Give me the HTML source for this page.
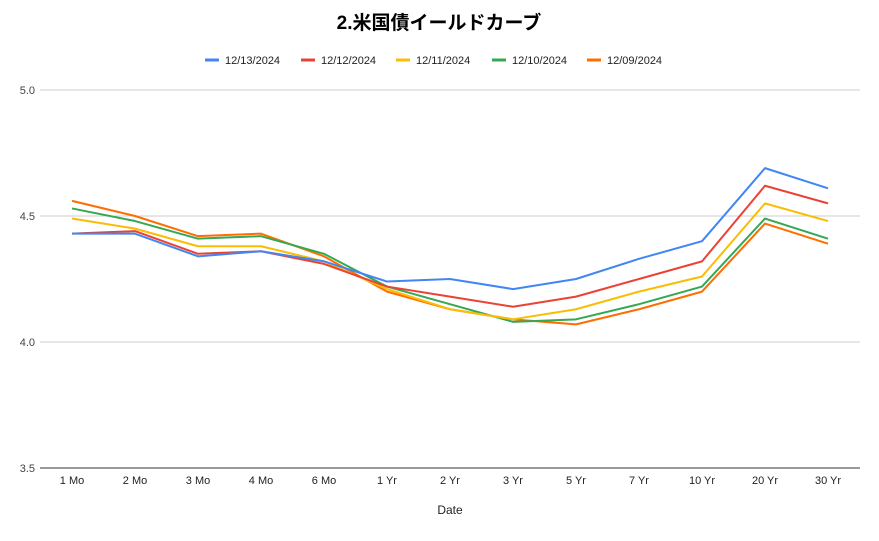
<!DOCTYPE html>
<html><head><meta charset="utf-8"><style>
body{margin:0;background:#fff;font-family:"Liberation Sans","Noto Sans CJK JP",sans-serif;}
svg text{font-family:"Liberation Sans","Noto Sans CJK JP",sans-serif;}
</style></head><body>
<svg id="chart" width="879" height="536">
<text x="439" y="29" text-anchor="middle" font-size="19" font-weight="bold" fill="#000">2.米国債イールドカーブ</text>
<g id="grid"></g><g id="legend"></g><g id="series"></g><g id="xlabels"></g>
<text x="450" y="514" text-anchor="middle" font-size="12" fill="#222">Date</text>
</svg>
<script>
const categories=["1 Mo","2 Mo","3 Mo","4 Mo","6 Mo","1 Yr","2 Yr","3 Yr","5 Yr","7 Yr","10 Yr","20 Yr","30 Yr"];
const seriesNames=["12/13/2024","12/12/2024","12/11/2024","12/10/2024","12/09/2024"];
const seriesColors=["#4285f4","#ea4335","#fbbc04","#34a853","#ff6d01"];
const s1213=[4.43,4.43,4.34,4.36,4.32,4.24,4.25,4.21,4.25,4.33,4.40,4.69,4.61];
const s1212=[4.43,4.44,4.35,4.36,4.31,4.22,4.18,4.14,4.18,4.25,4.32,4.62,4.55];
const s1211=[4.49,4.45,4.38,4.38,4.32,4.21,4.13,4.09,4.13,4.20,4.26,4.55,4.48];
const s1210=[4.53,4.48,4.41,4.42,4.35,4.22,4.15,4.08,4.09,4.15,4.22,4.49,4.41];
const s1209=[4.56,4.50,4.42,4.43,4.34,4.20,4.13,4.09,4.07,4.13,4.20,4.47,4.39];
const yTicks=[3.5,4.0,4.5,5.0];
const NS="http://www.w3.org/2000/svg";
const y=v=>90+(5.0-v)*252;
const x=i=>72+i*63;
function mk(t,a,p){const e=document.createElementNS(NS,t);for(const k in a)e.setAttribute(k,a[k]);p.appendChild(e);return e;}
const grid=document.getElementById('grid');
yTicks.forEach(t=>{
 const l=mk('line',{x1:40,x2:860,y1:y(t),y2:y(t),stroke:t===3.5?'#333':'#ccc','stroke-width':1},grid);
 
 
 const tx=mk('text',{x:35,y:y(t)+4,'text-anchor':'end','font-size':11,fill:'#444'},grid);
 tx.textContent=t.toFixed(1);
 
 
});
const xl=document.getElementById('xlabels');
categories.forEach((c,i)=>{
 const tx=mk('text',{x:x(i),y:484,'text-anchor':'middle','font-size':11,fill:'#222'},xl);
 tx.textContent=c;
 
 
});
const data=[s1213,s1212,s1211,s1210,s1209];
const sg=document.getElementById('series');
for(let k=data.length-1;k>=0;k--){
 const pts=data[k].map((v,i)=>x(i)+','+y(v)).join(' ');
 const p=mk('polyline',{points:pts,fill:'none',stroke:seriesColors[k],'stroke-width':2,'stroke-linejoin':'round'},sg);
 
 
}
const lg=document.getElementById('legend');
const lx=[205,301,396,492,587];
seriesNames.forEach((n,k)=>{
 const g=mk('g',{},lg);
 
 
 mk('line',{x1:lx[k],x2:lx[k]+14,y1:60,y2:60,stroke:seriesColors[k],'stroke-width':3},g);
 const t=mk('text',{x:lx[k]+20,y:64,'font-size':11,fill:'#222'},g);
 t.textContent=n;
});
</script>
</body></html>
